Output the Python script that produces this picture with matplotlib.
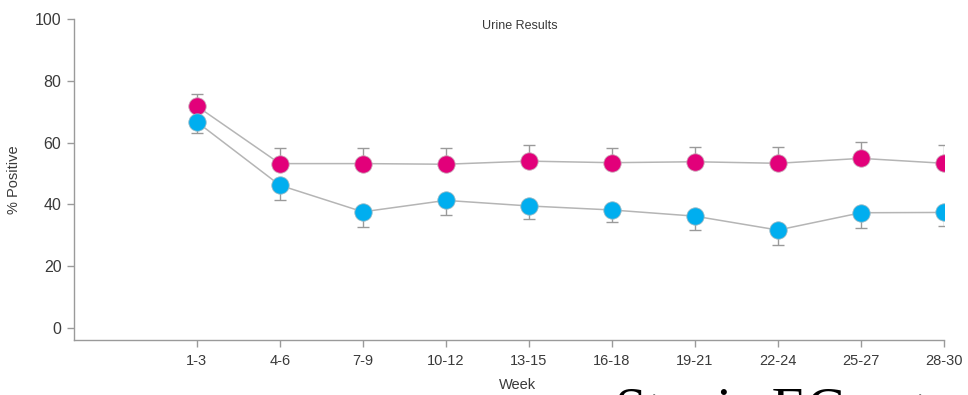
import matplotlib
matplotlib.use("Agg")
import matplotlib.pyplot as plt
import numpy as np

plt.rcParams['font.family'] = ['Liberation Sans', 'DejaVu Sans']

weeks = ["1-3", "4-6", "7-9", "10-12", "13-15", "16-18", "19-21", "22-24", "25-27", "28-30"]
pink_vals = [71.8, 53.2, 53.2, 53.0, 54.0, 53.5, 53.8, 53.3, 54.9, 53.3]
pink_err = [3.8, 4.9, 4.9, 5.1, 5.2, 4.6, 4.9, 5.4, 5.3, 6.0]
blue_vals = [66.7, 46.2, 37.6, 41.3, 39.5, 38.2, 36.2, 31.7, 37.3, 37.4]
blue_err = [3.7, 4.8, 4.8, 4.8, 4.2, 3.8, 4.6, 4.8, 5.0, 4.4]
y_ticks = [0, 20, 40, 60, 80, 100]

PINK = "#E2007A"
BLUE = "#00AEEF"
GRAY = "#9a9a9a"
TXT = "#3a3a3a"

fig = plt.figure(figsize=(9.68, 3.95), dpi=100)
ax = fig.add_axes([0.0764, 0.139, 0.8988, 0.813])

x = np.arange(len(weeks))
zeros = [0] * len(weeks)

# connecting lines
ax.plot(x, pink_vals, color="#b5b5b5", lw=1.1, zorder=1)
ax.plot(x, blue_vals, color="#b5b5b5", lw=1.1, zorder=1)

# one-sided error bars: pink upward, blue downward
ax.errorbar(x, pink_vals, yerr=[zeros, pink_err], fmt="none", ecolor=GRAY,
            elinewidth=1.0, capsize=4, capthick=1.0, zorder=2)
ax.errorbar(x, blue_vals, yerr=[blue_err, zeros], fmt="none", ecolor=GRAY,
            elinewidth=1.0, capsize=4, capthick=1.0, zorder=2)

ax.plot(x, pink_vals, "o", ms=12.5, mfc=PINK, mec="#c9a0b4", mew=0.6, zorder=3)
ax.plot(x, blue_vals, "o", ms=12.5, mfc=BLUE, mec="#8fb7c6", mew=0.6, zorder=3)

ax.set_xlim(-1.48, 9)
ax.set_ylim(-3.9, 100)
ax.set_xticks(x)
ax.set_xticklabels(weeks)
ax.set_yticks(y_ticks)

for side in ("top", "right"):
    ax.spines[side].set_visible(False)
for side in ("left", "bottom"):
    ax.spines[side].set_color(GRAY)
    ax.spines[side].set_linewidth(1.0)

ax.tick_params(axis="both", colors=GRAY, length=5, width=1.0, labelcolor=TXT)
ax.tick_params(axis="y", labelsize=11.5, pad=4)
ax.tick_params(axis="x", labelsize=10.5, pad=5)

ax.set_ylabel("% Positive", fontsize=10.5, color=TXT, labelpad=10)
fig.text(0.535, 0.025, "Week", fontsize=10.5, color=TXT, ha="center", va="center")
fig.text(0.537, 0.935, "Urine Results", fontsize=9, color=TXT, ha="center", va="center")

# large serif caption running off the bottom edge
fig.text(0.635, -0.082, "Stevia EC extract", fontsize=41, color="black",
         family="Liberation Serif", ha="left", va="baseline")

fig.savefig("out.png", dpi=100)
